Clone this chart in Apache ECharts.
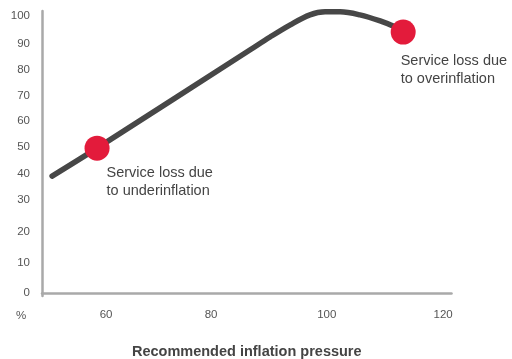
<!DOCTYPE html>
<html>
<head>
<meta charset="utf-8">
<script src="https://cdn.jsdelivr.net/npm/echarts@6/dist/echarts.min.js"></script>
<style>
  html, body { margin: 0; padding: 0; background: #fff; }
  #chart { width: 512px; height: 359px; }
</style>
</head>
<body>
<div id="chart"></div>
<script>
// curve (x = pressure, y = service %)
var curveX = [50.4, 58.4, 85.6, 89.2, 92.8, 96.3, 99.0, 101.7, 105.2, 108.8, 111.5, 112.9];
var curveY = [42.2, 52.3, 87.7, 92.4, 96.8, 100.4, 101.5, 101.5, 100.4, 98.2, 96.0, 94.2];

// the two highlighted points
var markX = [58.4, 112.9];
var markY = [52.3, 94.2];
var markText = ['Service loss due\nto underinflation', 'Service loss due\nto overinflation'];

// tick labels
var xTickLabels = ['60', '80', '100', '120'];
var yTickLabels = ['0', '10', '20', '30', '40', '50', '60', '70', '80', '90', '100'];

// where the labels sit on the axes (the drawing spaces them unevenly)
var xTickAt = [60, 78.7, 99.3, 120];
var yTickAt = [0, 10.8, 22.0, 33.6, 43.1, 52.7, 62.1, 71.1, 80.5, 89.9, 100];
var labelOffsets = [[22, 28], [10, 32]];

function pickLabel(at, labels, v) {
    var best = 0;
    for (var i = 1; i < at.length; i++) {
        if (Math.abs(at[i] - v) < Math.abs(at[best] - v)) best = i;
    }
    return labels[best];
}

var curve = curveX.map(function (x, i) { return [x, curveY[i]]; });
var marks = markX.map(function (x, i) {
    return {
        value: [x, markY[i]],
        label: { position: labelOffsets[i], formatter: markText[i] }
    };
});

var font = 'Liberation Sans, Arial, Helvetica, sans-serif';
var axisGrey = '#a9a9a9';

var myChart = echarts.init(document.getElementById('chart'), null, { renderer: 'canvas' });
var option = {
    animation: false,
    grid: { left: 42, right: 60.5, top: 11, bottom: 63, containLabel: false, outerBoundsMode: 'none' },
    xAxis: {
        type: 'value',
        min: 48.6,
        max: 121.5,
        name: 'Recommended inflation pressure',
        nameLocation: 'middle',
        nameGap: 48,
        nameTextStyle: { fontFamily: font, fontSize: 14.5, fontWeight: 'bold', color: '#444' },
        axisLine: { show: true, lineStyle: { color: axisGrey, width: 2.5 } },
        axisTick: { show: false },
        splitLine: { show: false },
        axisLabel: {
            customValues: xTickAt,
            margin: 13,
            fontFamily: font,
            fontSize: 11.5,
            color: '#555',
            formatter: function (v) { return pickLabel(xTickAt, xTickLabels, v); }
        }
    },
    yAxis: {
        type: 'value',
        min: -1.08,
        max: 101.8,
        name: '%',
        nameLocation: 'start',
        nameGap: 14,
        nameTextStyle: { fontFamily: font, fontSize: 11.5, color: '#555', padding: [0, 42, 0, 0] },
        axisLine: { show: true, lineStyle: { color: axisGrey, width: 2.5 } },
        axisTick: { show: false },
        splitLine: { show: false },
        axisLabel: {
            customValues: yTickAt,
            margin: 12,
            fontFamily: font,
            fontSize: 11.5,
            color: '#555',
            formatter: function (v) { return pickLabel(yTickAt, yTickLabels, v); }
        }
    },
    series: [
        {
            type: 'line',
            data: curve,
            smooth: 0.35,
            showSymbol: false,
            lineStyle: { color: '#474747', width: 5.5, cap: 'round', join: 'round' },
            z: 2
        },
        {
            type: 'scatter',
            data: marks,
            symbolSize: 25,
            itemStyle: { color: '#e31b3b', opacity: 1 },
            label: {
                show: true,
                align: 'left',
                verticalAlign: 'top',
                fontFamily: font,
                fontSize: 14.5,
                lineHeight: 18.5,
                color: '#444'
            },
            z: 3
        }
    ]
};
myChart.setOption(option);
</script>
</body>
</html>
